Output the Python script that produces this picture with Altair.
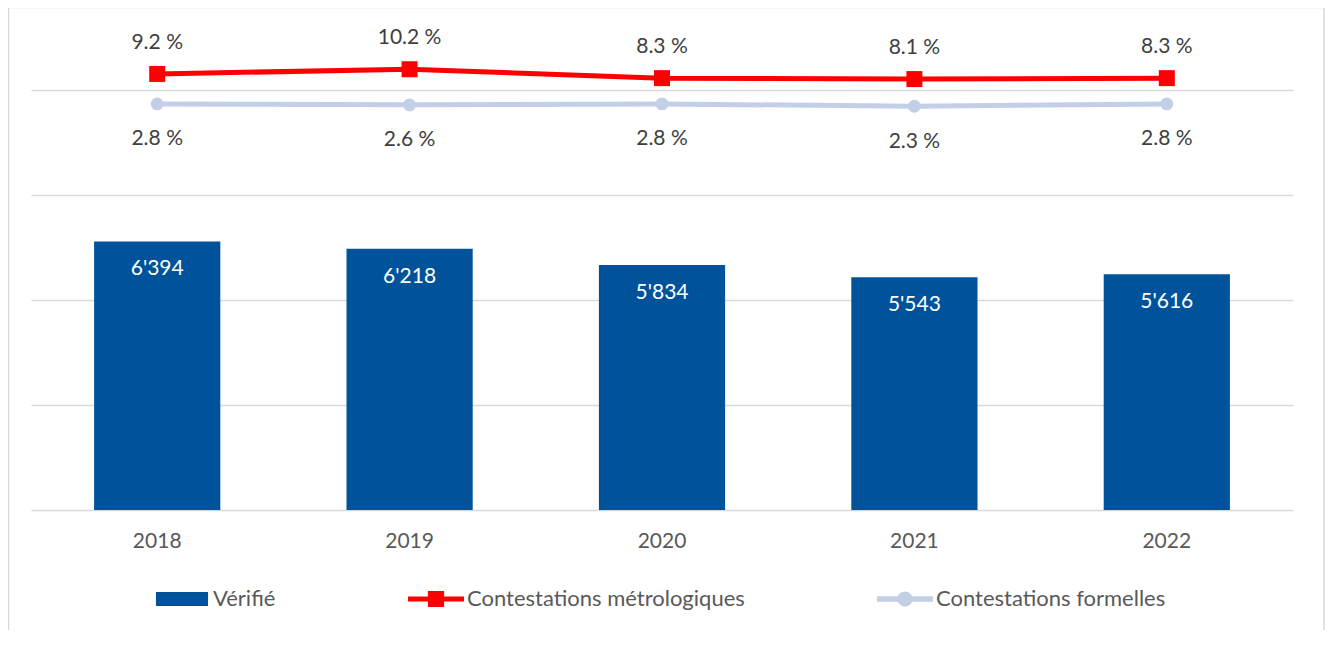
import altair as alt
import pandas as pd

years = ["2018", "2019", "2020", "2021", "2022"]
verifie = [6394, 6218, 5834, 5543, 5616]
verifie_labels = ["6'394", "6'218", "5'834", "5'543", "5'616"]
metrologiques = [9.2, 10.2, 8.3, 8.1, 8.3]
formelles = [2.8, 2.6, 2.8, 2.3, 2.8]
series = ["Vérifié", "Contestations métrologiques", "Contestations formelles"]
colors = ["#00539B", "#FF0000", "#C3CFE6"]
legend_paths = [
    "M-0.93,-0.25H0.93V0.25H-0.93Z",
    "M-1,-0.09H1V0.09H-1Z M-0.29,-0.29H0.29V0.29H-0.29Z",
    "M-1,-0.1H1V0.1H-1Z M-0.27,0A0.27,0.27 0 1,1 0.27,0A0.27,0.27 0 1,1 -0.27,0Z",
]

bar_df = pd.DataFrame({"year": years, "value": verifie, "label": verifie_labels, "series": series[0]})
met_df = pd.DataFrame({"year": years, "pct": metrologiques, "series": series[1],
                       "label": [f"{v:.1f} %" for v in metrologiques]})
for_df = pd.DataFrame({"year": years, "pct": formelles, "series": series[2],
                       "label": [f"{v:.1f} %" for v in formelles]})
line_df = pd.concat([met_df, for_df], ignore_index=True)

FONT = "Lato"

leg = alt.Legend(
    orient="none", legendX=123, legendY=551, direction="horizontal", columns=3,
    columnPadding=132, title=None, labelFont=FONT, labelFontSize=22, labelColor="#595959",
    labelLimit=600, symbolSize=3136, labelOffset=3, padding=0, symbolStrokeWidth=0,
    symbolOpacity=1,
)
color_scale = alt.Scale(domain=series, range=colors)

x_enc = alt.X("year:N", sort=years,
              scale=alt.Scale(paddingInner=0.5, paddingOuter=0.25),
              axis=alt.Axis(title=None, labelAngle=0, domain=False, ticks=False, tickSize=0,
                            labelPadding=20, labelFontSize=21, labelColor="#595959",
                            labelFont=FONT, grid=False))

y_bar = alt.Y("value:Q", scale=alt.Scale(domain=[0, 11667], nice=False, zero=True),
              axis=alt.Axis(values=[0, 2500, 5000, 7500, 10000], grid=True, labels=False,
                            ticks=False, domain=False, title=None, gridColor="#D9D9D9",
                            gridWidth=1.3))
y_pct = alt.Y("pct:Q", scale=alt.Scale(domain=[-83.8, 20.7], nice=False, zero=False), axis=None)

border = alt.Chart(pd.DataFrame({"a": [0]})).mark_rect(
    fill=None, stroke="#D9D9D9", strokeWidth=1.5
).encode(x=alt.value(-22.5), x2=alt.value(1293), y=alt.value(-12.5), y2=alt.value(700))

bars = alt.Chart(bar_df).mark_bar(color=colors[0]).encode(
    x=x_enc, y=y_bar,
    color=alt.Color("series:N", scale=color_scale, legend=leg),
)
bar_text = alt.Chart(bar_df).mark_text(
    color="white", font=FONT, fontSize=21, baseline="middle", dy=28
).encode(x=x_enc, y=y_bar, text="label:N")

bar_layer = alt.layer(border, bars, bar_text)

lines = alt.Chart(line_df).mark_line(strokeWidth=5).encode(
    x=x_enc, y=y_pct,
    color=alt.Color("series:N", scale=color_scale, legend=leg),
)
pts_met = alt.Chart(met_df).mark_point(shape="square", filled=True, size=256, opacity=1).encode(
    x=x_enc, y=y_pct, color=alt.Color("series:N", scale=color_scale, legend=leg))
pts_for = alt.Chart(for_df).mark_point(shape="circle", filled=True, size=165, opacity=1).encode(
    x=x_enc, y=y_pct, color=alt.Color("series:N", scale=color_scale, legend=leg))
lab_met = alt.Chart(met_df).mark_text(
    color="#404040", font=FONT, fontSize=21, baseline="middle", dy=-31
).encode(x=x_enc, y=y_pct, text="label:N")
lab_for = alt.Chart(for_df).mark_text(
    color="#404040", font=FONT, fontSize=21, baseline="middle", dy=35.5
).encode(x=x_enc, y=y_pct, text="label:N")
legend_layer = alt.Chart(line_df).mark_point(filled=True, opacity=0, size=10).encode(
    x=x_enc, y=y_pct,
    color=alt.Color("series:N", scale=color_scale, legend=leg),
    shape=alt.Shape("series:N", scale=alt.Scale(domain=series, range=legend_paths), legend=leg),
)

line_layer = alt.layer(lines, pts_for, pts_met, lab_met, lab_for, legend_layer)

chart = alt.layer(bar_layer, line_layer).resolve_scale(y="independent").properties(
    width=1262, height=490,
    autosize=alt.AutoSizeParams(type="none"),
    padding={"left": 23, "top": 12, "right": 32, "bottom": 120},
    background="white",
).configure_view(stroke=None)

chart.save("out.html", embed_options={"renderer": "svg", "actions": False})
